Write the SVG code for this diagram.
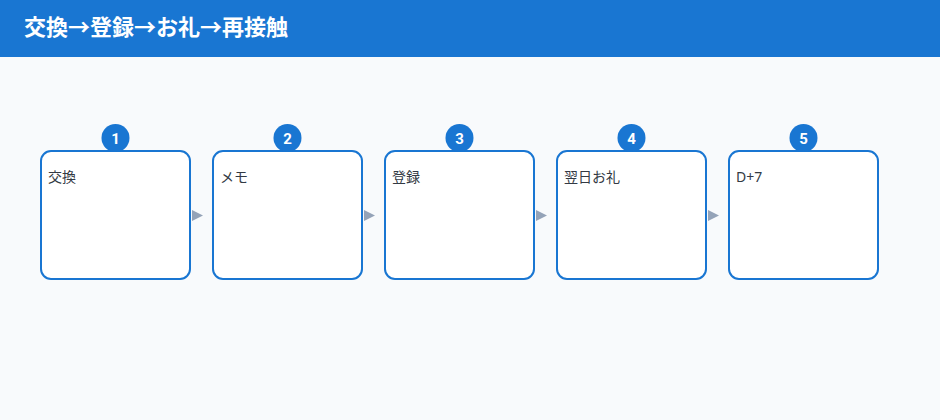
<svg xmlns="http://www.w3.org/2000/svg" width="940" height="420" viewBox="0 0 940 420">
<style>
.box{fill:#ffffff;stroke:#1976d2;stroke-width:2}
.badge{fill:#1976d2}
.num{fill:#ffffff;font-family:Roboto,"Noto Sans",sans-serif;font-size:15px;font-weight:bold;text-anchor:middle}
.lbl{fill:#333a44;font-family:"Noto Sans","Noto Sans CJK JP",sans-serif;font-size:14px}
.arr{fill:#94a3b8}
</style>
<rect x="0" y="0" width="940" height="420" fill="#f8fafc"/>
<rect x="0" y="0" width="940" height="57" fill="#1976d2"/>
<text x="24" y="35" fill="#ffffff" font-family="'Noto Sans','Noto Sans CJK JP',sans-serif" font-size="22" font-weight="bold">交換→登録→お礼→再接触</text>
<g id="connectors">
<polygon class="arr" points="192,210 203,215.5 192,221"/>
<polygon class="arr" points="364,210 375,215.5 364,221"/>
<polygon class="arr" points="536,210 547,215.5 536,221"/>
<polygon class="arr" points="708,210 719,215.5 708,221"/>
</g>
<g id="node1">
<rect class="box" x="41" y="151" width="149" height="128" rx="10"/>
<circle class="badge" cx="115.5" cy="138" r="14"/>
<text class="num" x="115.5" y="143.5">1</text>
<text class="lbl" x="48" y="182">交換</text>
</g>
<g id="node2">
<rect class="box" x="213" y="151" width="149" height="128" rx="10"/>
<circle class="badge" cx="287.5" cy="138" r="14"/>
<text class="num" x="287.5" y="143.5">2</text>
<text class="lbl" x="220" y="182">メモ</text>
</g>
<g id="node3">
<rect class="box" x="385" y="151" width="149" height="128" rx="10"/>
<circle class="badge" cx="459.5" cy="138" r="14"/>
<text class="num" x="459.5" y="143.5">3</text>
<text class="lbl" x="392" y="182">登録</text>
</g>
<g id="node4">
<rect class="box" x="557" y="151" width="149" height="128" rx="10"/>
<circle class="badge" cx="631.5" cy="138" r="14"/>
<text class="num" x="631.5" y="143.5">4</text>
<text class="lbl" x="564" y="182">翌日お礼</text>
</g>
<g id="node5">
<rect class="box" x="729" y="151" width="149" height="128" rx="10"/>
<circle class="badge" cx="803.5" cy="138" r="14"/>
<text class="num" x="803.5" y="143.5">5</text>
<text class="lbl" x="736" y="182">D+7</text>
</g>
</svg>
